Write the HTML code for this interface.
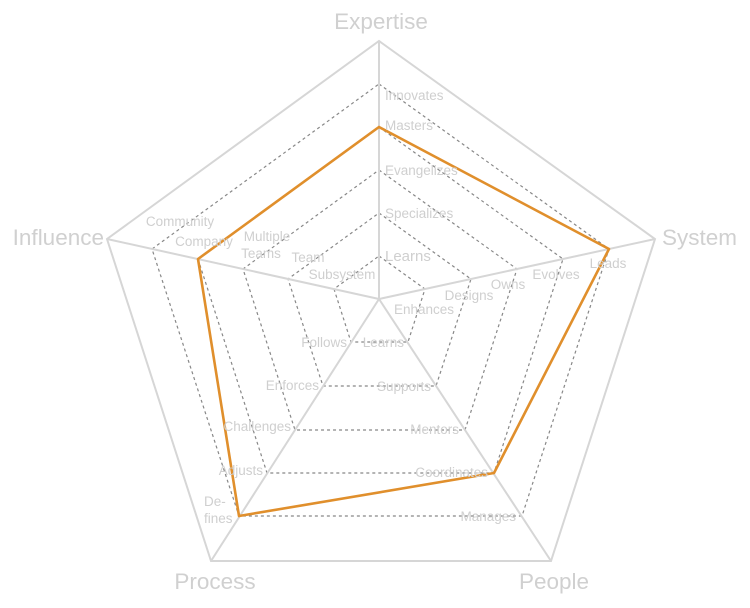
<!DOCTYPE html>
<html><head><meta charset="utf-8"><style>
html,body{margin:0;padding:0;background:#fff;width:750px;height:608px;overflow:hidden}
svg{display:block;font-family:"Liberation Sans",sans-serif}
.ax{fill:#d0d0d0;font-size:22.5px}
.l{fill:#cfcfcf;font-size:13.5px}
</style></head><body>
<svg width="750" height="608" viewBox="0 0 750 608">
<g fill="none" stroke="#888" stroke-width="1.2" stroke-dasharray="3,3">
<polygon points="379,256 425,289 408,342 351,342 334,289"/>
<polygon points="379,213 471,279 436,386 323,386 288,279"/>
<polygon points="379,170 517,269 465,430 295,430 243,269"/>
<polygon points="379,127 563,259 494,473 267,473 198,259"/>
<polygon points="379,84 609,249 522,516 239,516 152,249"/>
</g>
<g fill="none" stroke="#d6d6d6" stroke-width="2">
<polygon points="379,41 655,239 551,561 211,561 107,239"/>
<line x1="379" y1="299" x2="379" y2="41"/>
<line x1="379" y1="299" x2="655" y2="239"/>
<line x1="379" y1="299" x2="551" y2="561"/>
<line x1="379" y1="299" x2="211" y2="561"/>
<line x1="379" y1="299" x2="107" y2="239"/>
</g>
<polygon points="379,127 609,249 494,473 239,516 198,259" fill="none" stroke="#e08f2c" stroke-width="2.6" stroke-linejoin="round"/>
<text class="ax" x="381" y="29" text-anchor="middle">Expertise</text>
<text class="ax" x="662" y="245">System</text>
<text class="ax" x="554" y="589" text-anchor="middle">People</text>
<text class="ax" x="215" y="589" text-anchor="middle">Process</text>
<text class="ax" x="104" y="245" text-anchor="end">Influence</text>
<g class="l">
<text class="l" x="385" y="100">Innovates</text>
<text class="l" x="385" y="130">Masters</text>
<text class="l" x="385" y="175">Evangelizes</text>
<text class="l" x="385" y="218">Specializes</text>
<text class="l" x="385" y="261" style="font-size:15px">Learns</text>
<text class="l" x="424" y="314" text-anchor="middle">Enhances</text>
<text class="l" x="469" y="300" text-anchor="middle">Designs</text>
<text class="l" x="508" y="289" text-anchor="middle">Owns</text>
<text class="l" x="556" y="279" text-anchor="middle">Evolves</text>
<text class="l" x="608" y="268" text-anchor="middle">Leads</text>
<text class="l" x="404" y="347" text-anchor="end">Learns</text>
<text class="l" x="431" y="391" text-anchor="end">Supports</text>
<text class="l" x="459" y="434" text-anchor="end">Mentors</text>
<text class="l" x="488" y="477" text-anchor="end">Coordinates</text>
<text class="l" x="516" y="521" text-anchor="end">Manages</text>
<text class="l" x="347" y="347" text-anchor="end">Follows</text>
<text class="l" x="319" y="390" text-anchor="end">Enforces</text>
<text class="l" x="291" y="431" text-anchor="end">Challenges</text>
<text class="l" x="263" y="475" text-anchor="end">Adjusts</text>
<text class="l" x="204" y="506">De-</text>
<text class="l" x="204" y="523">fines</text>
<text class="l" x="342" y="279" text-anchor="middle">Subsystem</text>
<text class="l" x="308" y="262" text-anchor="middle">Team</text>
<text class="l" x="267" y="241" text-anchor="middle">Multiple</text>
<text class="l" x="261" y="258" text-anchor="middle">Teams</text>
<text class="l" x="204" y="246" text-anchor="middle">Company</text>
<text class="l" x="180" y="226" text-anchor="middle">Community</text>
</g>
</svg>
</body></html>
